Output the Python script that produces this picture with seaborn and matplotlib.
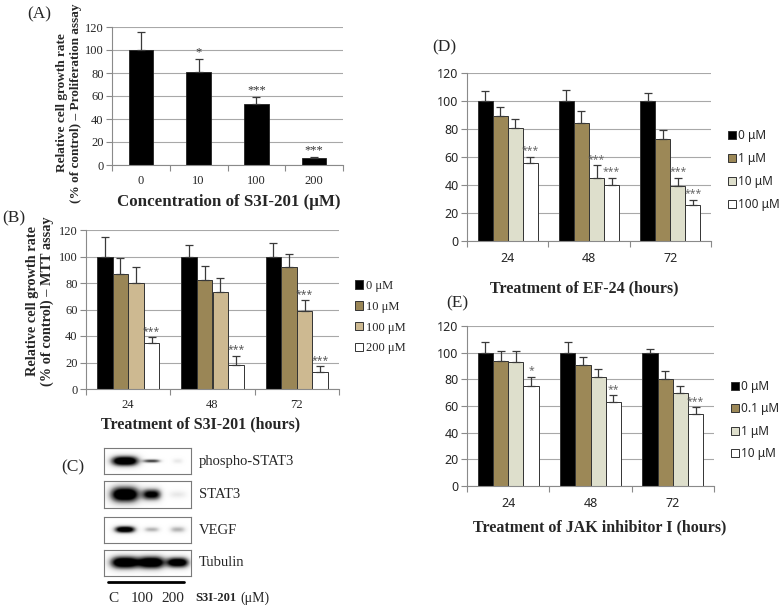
import numpy as np
import pandas as pd
import matplotlib
matplotlib.use("Agg")
import matplotlib.pyplot as plt
import seaborn as sns
from matplotlib.patches import Patch

# ---------------- data ----------------
a_conc = ["0", "10", "100", "200"]
a_mean = [100, 81, 53, 6]
a_err = [16, 11, 6, 1]
a_sig = ["", "*", "***", "***"]

hours = ["24", "48", "72"]

b_doses = ["0 \u03bcM", "10 \u03bcM", "100 \u03bcM", "200 \u03bcM"]
b_means = [[100, 100, 100], [87, 82, 92], [80, 73, 59], [35, 18, 12.5]]
b_errs = [[15, 9, 10], [12, 11, 10], [12, 11, 8], [4, 7, 4.5]]
b_sigs = [["", "", ""], ["", "", ""], ["", "", "***"], ["***", "***", "***"]]

d_doses = ["0 \u03bcM", "1 \u03bcM", "10 \u03bcM", "100 \u03bcM"]
d_means = [[100, 100, 100], [89, 84, 73], [81, 45, 39], [56, 40, 26]]
d_errs = [[7, 8, 6], [7, 9, 6], [6, 9, 6], [4, 5, 3.5]]
d_sigs = [["", "", ""], ["", "", ""], ["", "***", "***"], ["***", "***", "***"]]

e_doses = ["0 \u03bcM", "0.1 \u03bcM", "1 \u03bcM", "10 \u03bcM"]
e_means = [[100, 100, 100], [94, 91, 80], [93, 82, 70], [75, 63, 54]]
e_errs = [[8, 8, 3], [7, 6, 6], [8, 6, 5], [7, 5, 5]]
e_sigs = [["", "", ""], ["", "", ""], ["", "", ""], ["*", "**", "***"]]

blot_proteins = ["phospho-STAT3", "STAT3", "VEGF", "Tubulin"]
blot_lanes = ["C", "100", "200"]
blot_intensity = [[1.0, 0.6, 0.12], [1.0, 0.8, 0.12], [0.95, 0.3, 0.3], [1.0, 1.0, 0.95]]

# ---------------- style ----------------
sns.set_theme(style="ticks")
plt.rcParams["font.family"] = ["Liberation Serif", "DejaVu Serif"]
SERIF = ["Liberation Serif", "DejaVu Serif"]
SANS = ["Noto Sans", "DejaVu Sans"]

W, H = 780, 605
fig = plt.figure(figsize=(W / 100, H / 100), dpi=100)
fig.patch.set_facecolor("white")


def ax_px(l, t, r, b):
    return fig.add_axes([l / W, 1 - b / H, (r - l) / W, (b - t) / H])


def ftext(x, y, s, **kw):
    return fig.text(x / W, 1 - y / H, s, **kw)


def style_axes(ax, ncat, fam, pad, size):
    ax.set_ylim(0, 120)
    ax.set_yticks(range(0, 121, 20))
    ax.set_xlim(-0.5, ncat - 0.5)
    ax.yaxis.grid(True, color="#a8a8a8", lw=0.8)
    ax.xaxis.grid(False)
    ax.set_axisbelow(True)
    for s in ["top", "right"]:
        ax.spines[s].set_visible(False)
    for s in ["left", "bottom"]:
        ax.spines[s].set_color("#8a8a8a")
        ax.spines[s].set_linewidth(0.8)
    ax.set_xticks(np.arange(-0.5, ncat, 1), minor=True)
    ax.tick_params(axis="x", which="minor", length=4, color="#8a8a8a", width=0.8, bottom=True)
    ax.tick_params(axis="x", which="major", length=0, pad=pad, labelsize=size)
    ax.tick_params(axis="y", length=4, color="#8a8a8a", width=0.8, pad=2, labelsize=size, left=True)
    for lab in ax.get_xticklabels() + ax.get_yticklabels():
        lab.set_family(fam)
    ax.set_xlabel("")
    ax.set_ylabel("")


def grouped(ax, doses, means, errs, sigs, colors, starcol):
    rows = []
    for d, ms in zip(doses, means):
        for h, m in zip(hours, ms):
            rows.append({"hour": h, "dose": d, "val": m})
    df = pd.DataFrame(rows)
    sns.barplot(data=df, x="hour", y="val", hue="dose", order=hours, hue_order=doses,
                palette=colors, width=0.74, gap=0, errorbar=None, legend=False,
                edgecolor="#333333", linewidth=0.7, saturation=1, ax=ax)
    for cont, er, sg in zip(ax.containers, errs, sigs):
        xs = [p.get_x() + p.get_width() / 2 for p in cont.patches]
        ys = [p.get_height() for p in cont.patches]
        ax.errorbar(xs, ys, yerr=[np.zeros(len(er)), er], fmt="none", ecolor="#3a3a3a",
                    elinewidth=0.9, capsize=3, capthick=0.9, zorder=3)
        for x, y, e, s in zip(xs, ys, er, sg):
            if s:
                ax.text(x, y + e + 0.5, s, ha="center", va="bottom", fontsize=7.5,
                        color=starcol, family=SANS)


def legend(ax, doses, colors, x, y, fam, spacing, size):
    handles = [Patch(facecolor=c, edgecolor="#333333", linewidth=0.7, label=d)
               for c, d in zip(colors, doses)]
    ax.legend(handles=handles, loc="upper left", bbox_to_anchor=(x / W, 1 - y / H),
              bbox_transform=fig.transFigure, frameon=False, handlelength=0.65,
              handleheight=0.65, handletextpad=0.2, labelspacing=spacing, borderpad=0,
              borderaxespad=0, prop={"family": fam, "size": size})


# ---------------- (A) ----------------
axA = ax_px(112, 27, 343, 165)
sns.barplot(x=a_conc, y=a_mean, order=a_conc, color="black", width=0.42, errorbar=None,
            edgecolor="#222222", linewidth=0.6, saturation=1, ax=axA)
xsA = [p.get_x() + p.get_width() / 2 for p in axA.patches]
axA.errorbar(xsA, a_mean, yerr=[np.zeros(4), a_err], fmt="none", ecolor="#3a3a3a",
             elinewidth=0.9, capsize=3, capthick=0.9, zorder=3)
for x, y, e, s in zip(xsA, a_mean, a_err, a_sig):
    if s:
        axA.text(x, y + e + 0.5, s, ha="center", va="bottom", fontsize=9, color="#333333")
style_axes(axA, 4, SERIF, 7, 9)
ftext(39, 14, "(A)", fontsize=12.5, ha="center", va="center")
ftext(69, 103, "Relative cell growth rate\n(% of control) \u2013 Proliferation assay",
      rotation=90, ha="center", va="center", multialignment="center", fontsize=9.5,
      fontweight="bold", linespacing=1.15)
ftext(229, 202, "Concentration of S3I-201 (\u03bcM)", fontsize=12.2, fontweight="bold",
      ha="center", va="center")

# ---------------- (B) ----------------
colB = ["#000000", "#9a8656", "#cdb991", "#ffffff"]
axB = ax_px(86, 230, 339, 389)
grouped(axB, b_doses, b_means, b_errs, b_sigs, colB, "#555555")
style_axes(axB, 3, SERIF, 7, 9)
legend(axB, b_doses, colB, 355, 280, SERIF, 0.7, 9)
ftext(14, 218, "(B)", fontsize=12.5, ha="center", va="center")
ftext(40, 301, "Relative cell growth rate\n(% of control) \u2013 MTT assay",
      rotation=90, ha="center", va="center", multialignment="center", fontsize=10.3,
      fontweight="bold", linespacing=1.1)
ftext(201, 424, "Treatment of S3I-201 (hours)", fontsize=11.5, fontweight="bold",
      ha="center", va="center")

# ---------------- (D) ----------------
colD = ["#000000", "#9c8857", "#dedfcc", "#ffffff"]
axD = ax_px(467, 73, 711, 241)
grouped(axD, d_doses, d_means, d_errs, d_sigs, colD, "#666666")
style_axes(axD, 3, SANS, 8, 9)
legend(axD, d_doses, colD, 728, 129, SANS, 0.85, 8.5)
ftext(444, 47, "(D)", fontsize=12.5, ha="center", va="center")
ftext(584, 288, "Treatment of EF-24 (hours)", fontsize=11.5, fontweight="bold",
      ha="center", va="center")

# ---------------- (E) ----------------
axE = ax_px(467, 326, 714, 486)
grouped(axE, e_doses, e_means, e_errs, e_sigs, colD, "#666666")
style_axes(axE, 3, SANS, 8, 9)
legend(axE, e_doses, colD, 731, 380, SANS, 0.8, 8.5)
ftext(457, 303, "(E)", fontsize=12.5, ha="center", va="center")
ftext(600, 527, "Treatment of JAK inhibitor I (hours)", fontsize=11.5, fontweight="bold",
      ha="center", va="center")

# ---------------- (C) western blot ----------------
strips = [(448, 474), (481, 508), (517, 543), (550, 576)]
lane_cx = [0.24, 0.55, 0.85]
band_w = [[0.16, 0.10, 0.06], [0.17, 0.11, 0.10], [0.12, 0.09, 0.09], [0.17, 0.15, 0.13]]
band_h = [[0.20, 0.07, 0.10], [0.30, 0.22, 0.14], [0.13, 0.10, 0.12], [0.24, 0.24, 0.20]]
xx, yy = np.meshgrid(np.linspace(0, 1, 174), np.linspace(0, 1, 52))
for (top, bot), inten, bw, bh, name in zip(strips, blot_intensity, band_w, band_h, blot_proteins):
    ax = ax_px(104, top, 191, bot)
    img = np.zeros_like(xx)
    for cx, it, w, h in zip(lane_cx, inten, bw, bh):
        img += it * np.exp(-np.abs((xx - cx) / w) ** 3) * np.exp(-((yy - 0.5) / h) ** 2)
    img = np.clip(img * 1.4, 0, 1)
    ax.imshow(img, cmap="Greys", vmin=0, vmax=1, aspect="auto", extent=(0, 1, 0, 1),
              interpolation="bilinear")
    ax.set_xticks([])
    ax.set_yticks([])
    for s in ax.spines.values():
        s.set_color("#7a7a7a")
        s.set_linewidth(0.8)
    ftext(199, (top + bot) / 2, name, fontsize=10.5, ha="left", va="center")

ftext(73, 467, "(C)", fontsize=12.5, ha="center", va="center")
fig.add_artist(plt.Line2D([108 / W, 184 / W], [1 - 582 / H, 1 - 582 / H], color="black", lw=2))
for lab, x in zip(blot_lanes, [113, 142, 173]):
    ftext(x, 598, lab, fontsize=11, ha="center", va="center")
ftext(195, 598, "S3I-201", fontsize=9, fontweight="bold", ha="left", va="center")
ftext(240, 598, "(\u03bcM)", fontsize=10, ha="left", va="center")

fig.savefig("out.png", dpi=100)
